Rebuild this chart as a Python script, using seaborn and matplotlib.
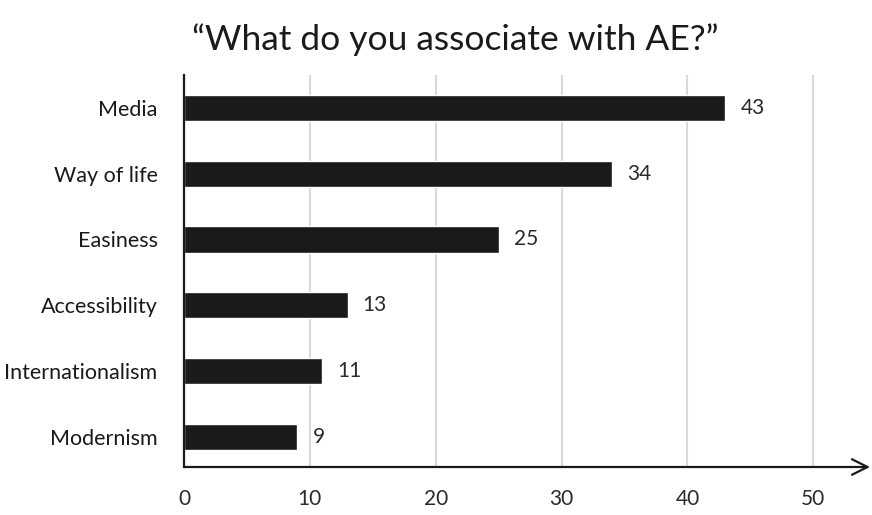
import matplotlib
matplotlib.use("Agg")
import matplotlib.pyplot as plt
import seaborn as sns
import pandas as pd

categories = ["Media", "Way of life", "Easiness", "Accessibility", "Internationalism", "Modernism"]
counts = [43, 34, 25, 13, 11, 9]
x_ticks = [0, 10, 20, 30, 40, 50]

df = pd.DataFrame({"category": categories, "count": counts})

sns.set_theme(style="white")
plt.rcParams["font.family"] = ["Lato", "DejaVu Sans"]

fig = plt.figure(figsize=(8.72, 5.15), dpi=100)
ax = fig.add_axes([184 / 872, 1 - 467 / 515, (870 - 184) / 872, (467 - 75) / 515])

sns.barplot(data=df, x="count", y="category", orient="h", color="#1a1a1a",
            width=0.4, ax=ax, saturation=1)

ax.set_xlim(0, 54.5)
ax.set_ylim(5.46, -0.5)
ax.set_xticks(x_ticks)
ax.set_xticklabels([str(t) for t in x_ticks], fontsize=15, color="#2a2a2a")
ax.tick_params(axis="y", labelsize=15.5, labelcolor="#1a1a1a", length=0, pad=19)
ax.tick_params(axis="x", length=0, pad=16)
ax.set_xlabel("")
ax.set_ylabel("")

# vertical gridlines
for t in x_ticks[1:]:
    ax.axvline(t, color="#d9d9d9", lw=1.5, zorder=0)

for s in ["top", "right", "bottom"]:
    ax.spines[s].set_visible(False)
ax.spines["left"].set_color("#1a1a1a")
ax.spines["left"].set_linewidth(1.6)

# x axis drawn as an arrow
ax.annotate("", xy=(1.0, 0), xytext=(0, 0), xycoords="axes fraction",
            arrowprops=dict(arrowstyle="->", lw=1.6, color="#1a1a1a",
                            mutation_scale=28, shrinkA=0, shrinkB=0),
            annotation_clip=False)

# value labels
for i, v in enumerate(counts):
    ax.text(v + 1.2, i, str(v), va="center", ha="left", fontsize=15, color="#2a2a2a")

fig.text(455 / 872, 1 - 40 / 515, "\u201cWhat do you associate with AE?\u201d", ha="center",
         va="center", fontsize=25.5, color="#1a1a1a")

fig.savefig("out.png", dpi=100)
